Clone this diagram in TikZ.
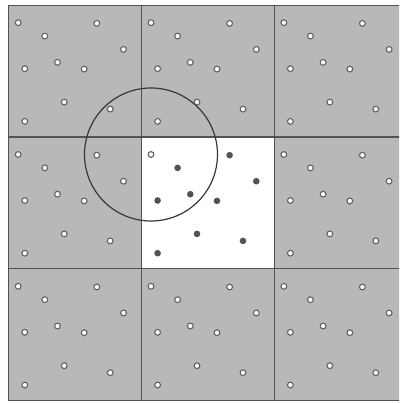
\documentclass[tikz,border=0pt]{standalone}
\begin{document}
\begin{tikzpicture}[x=1pt,y=-1pt,
  cellline/.style={draw=black!68,line width=1.1pt},
  imagedot/.style={draw=black!62,fill=white,line width=1.1pt},
  realdot/.style={fill=black!68},
  cutoff/.style={draw=black!78,line width=1.2pt},
]
\useasboundingbox (0,0) rectangle (399,403);
\begin{scope}
\clip (0,0) rectangle (399,403);
\def\ox{8.5}\def\oy{5.2}\def\cw{132.8}\def\ch{131.8}
% gray periodic images
\fill[gray!56] (\ox,\oy) rectangle ({\ox+3*\cw},{\oy+3*\ch});
% central (white) cell
\fill[white] ({\ox+\cw},{\oy+\ch}) rectangle ({\ox+2*\cw},{\oy+2*\ch});
% grid lines
\foreach \i in {0,1,2,3}{
  \draw[cellline] ({\ox+\i*\cw},\oy) -- ({\ox+\i*\cw},{\oy+3*\ch});
  \draw[cellline] (\ox,{\oy+\i*\ch}) -- ({\ox+3*\cw},{\oy+\i*\ch});
}
% particles
\foreach \i in {0,1,2}{
  \foreach \j in {0,1,2}{
    \foreach \dx/\dy [count=\k] in {9.7/17.5,36.3/30.9,88.3/18.2,115/44.2,16.3/63.5,49/57.2,75.7/63.9,55.7/96.9,101.7/103.9,16.3/116.2}{
      \pgfmathsetmacro{\px}{\ox+\i*\cw+\dx}
      \pgfmathsetmacro{\py}{\oy+\j*\ch+\dy}
      \ifnum\i=1 \ifnum\j=1
        \ifnum\k=1
          \draw[imagedot] (\px,\py) circle (2.9);
        \else
          \fill[realdot] (\px,\py) circle (3.3);
        \fi
      \else
        \draw[imagedot] (\px,\py) circle (2.9);
      \fi
      \else
        \draw[imagedot] (\px,\py) circle (2.9);
      \fi
    }
  }
}
% cutoff circle around the reference particle
\coordinate (ref) at ({\ox+\cw+9.7},{\oy+\ch+17.5});
\draw[cutoff] (ref) circle (66.5);
\end{scope}
\end{tikzpicture}
\end{document}
